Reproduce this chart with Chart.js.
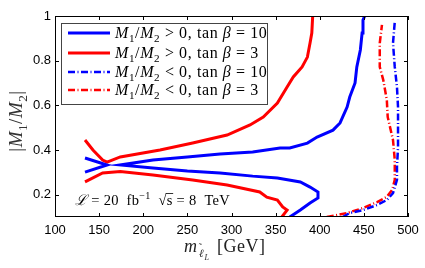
<!DOCTYPE html>
<html>
<head>
<meta charset="utf-8">
<script src="https://cdn.jsdelivr.net/npm/chart.js@4.4.1/dist/chart.umd.min.js"></script>
<style>
  html, body { margin: 0; padding: 0; background: #fff; }
</style>
</head>
<body>
<canvas id="graph" width="425" height="268"></canvas>
<script>
// axis ticks
var xTicks = [100, 150, 200, 250, 300, 350, 400, 450, 500];
var yTicks = [0.2, 0.4, 0.6, 0.8, 1];

// M1/M2 > 0, tan beta = 10 (blue solid), null = break in the line
var blueSolidX = [134, 159, 134, null, 366, 378, 389, 398, 398, 389, 378, 352, 324, 287, 250, 211, 174,
    211, 250, 287, 324, 355, 366, 386, 397, 415, 423, 431, 434, 440, 442, 446, 448, 449, 451];
var blueSolidY = [0.364, 0.333, 0.301, null, 0.1, 0.131, 0.163, 0.185, 0.212, 0.234, 0.257, 0.275, 0.283, 0.297, 0.306, 0.319, 0.333,
    0.355, 0.369, 0.382, 0.391, 0.409, 0.409, 0.431, 0.458, 0.489, 0.521, 0.592, 0.637, 0.7, 0.772, 0.848, 0.924, 0.982, 1.0];

// M1/M2 > 0, tan beta = 3 (red solid)
var redSolidX = [134, 154, 174, 211, 256, 295, 332, 340, 352, 358, 363, 357, null,
    134, 143, 154, 159, 174, 219, 256, 295, 321, 336, 352, 363, 370, 380, 386, 389, 391, 392];
var redSolidY = [0.257, 0.297, 0.304, 0.288, 0.266, 0.243, 0.212, 0.189, 0.176, 0.145, 0.131, 0.1, null,
    0.445, 0.40, 0.355, 0.346, 0.369, 0.40, 0.431, 0.467, 0.512, 0.548, 0.61, 0.682, 0.727, 0.772, 0.816, 0.879, 0.924, 1.0];

// M1/M2 < 0, tan beta = 10 (blue dash-dot)
var blueDashX = [426, 434, 449, 465, 476, 483, 487.5, 487.5, 488.7, 488.7, 487.5, 485, 483, 485];
var blueDashY = [0.1, 0.118, 0.131, 0.154, 0.176, 0.207, 0.266, 0.324, 0.413, 0.592, 0.682, 0.772, 0.879, 0.973];

// M1/M2 < 0, tan beta = 3 (red dash-dot)
var redDashX = [408, 431, 449, 465, 476, 482, 485, 485, 483, 477, 476, 472, 468, 468, 470.5];
var redDashY = [0.1, 0.118, 0.14, 0.167, 0.19, 0.221, 0.266, 0.355, 0.445, 0.548, 0.624, 0.713, 0.772, 0.879, 0.96];

var legendSign = ['>', '>', '<', '<'];
var legendTan = ['10', '3', '10', '3'];

var SERIF = '"Liberation Serif", "DejaVu Serif", serif';
var dashDot = [7, 2.5, 1, 2.5];

const toPoints = (xs, ys) => xs.map((x, i) => ({ x: x, y: ys[i] }));

const makeSet = (xs, ys, color, dashed) => ({
    data: toPoints(xs, ys),
    showLine: true,
    borderColor: color,
    borderWidth: dashed ? 2.5 : 3,
    borderDash: dashed ? dashDot : [],
    pointRadius: 0,
    fill: false,
    tension: 0
});

// draws text made of runs (italic / subscript / superscript), returns end x
const richText = (ctx, x, y, runs, size, measureOnly) => {
    runs.forEach((r) => {
        let s = (r.sub || r.sup) ? size * 0.7 : size;
        ctx.font = (r.it ? 'italic ' : '') + s + 'px ' + SERIF;
        let dy = r.sub ? size * 0.28 : (r.sup ? -size * 0.38 : 0);
        if (!measureOnly) ctx.fillText(r.t, x, y + dy);
        x += ctx.measureText(r.t).width;
    });
    return x;
};

const ratioRuns = [{ t: 'M', it: 1 }, { t: '1', sub: 1 }, { t: '/' }, { t: 'M', it: 1 }, { t: '2', sub: 1 }];

const decorPlugin = {
    id: 'decor',
    afterDatasetsDraw(chart) {
        const ctx = chart.ctx;
        const a = chart.chartArea;
        const xs = chart.scales.x, ys = chart.scales.y;
        ctx.save();

        // frame and inward ticks
        ctx.strokeStyle = '#000';
        ctx.lineWidth = 1;
        ctx.strokeRect(a.left + 0.5, a.top + 0.5, a.right - a.left - 1, a.bottom - a.top - 1);
        ctx.beginPath();
        xTicks.forEach((v) => {
            let px = Math.round(xs.getPixelForValue(v)) + 0.5;
            ctx.moveTo(px, a.bottom); ctx.lineTo(px, a.bottom - 4);
            ctx.moveTo(px, a.top); ctx.lineTo(px, a.top + 4);
        });
        yTicks.forEach((v) => {
            let py = Math.round(ys.getPixelForValue(v)) + 0.5;
            ctx.moveTo(a.left, py); ctx.lineTo(a.left + 4, py);
            ctx.moveTo(a.right, py); ctx.lineTo(a.right - 4, py);
        });
        ctx.stroke();

        // legend box
        ctx.fillStyle = '#fff';
        ctx.fillRect(61, 23, 206, 81);
        ctx.strokeStyle = '#444';
        ctx.strokeRect(61.5, 23.5, 206, 81);
        const rows = [33, 53, 72, 90];
        ctx.letterSpacing = '0.6px';
        chart.data.datasets.forEach((ds, i) => {
            ctx.beginPath();
            ctx.strokeStyle = ds.borderColor;
            ctx.lineWidth = ds.borderWidth;
            ctx.setLineDash(ds.borderDash);
            ctx.moveTo(68, rows[i]); ctx.lineTo(110, rows[i]);
            ctx.stroke();
            ctx.setLineDash([]);
            ctx.fillStyle = '#000';
            ctx.textBaseline = 'alphabetic';
            let runs = ratioRuns.concat([{ t: ' ' + legendSign[i] + ' 0, tan ' }, { t: 'β', it: 1 }, { t: ' = ' + legendTan[i] }]);
            richText(ctx, 115, rows[i] + 5, runs, 16);
        });

        // luminosity note
        ctx.fillStyle = '#000';
        ctx.letterSpacing = '0.3px';
        let nx = richText(ctx, 75, 205, [{ t: 'ℒ', it: 1 }, { t: ' = 20  fb' }, { t: '−1', sup: 1 }, { t: '  √' }], 14.5);
        let sx = nx;
        nx = richText(ctx, nx, 205, [{ t: 's' }], 14.5);
        ctx.beginPath();
        ctx.lineWidth = 0.8;
        ctx.strokeStyle = '#000';
        ctx.moveTo(sx - 1, 193.5); ctx.lineTo(nx + 0.5, 193.5);
        ctx.stroke();
        richText(ctx, nx, 205, [{ t: ' = 8  TeV' }], 14.5);

        // y title
        ctx.letterSpacing = '0.5px';
        ctx.save();
        ctx.translate(16, 121);
        ctx.rotate(-Math.PI / 2);
        let yRuns = [{ t: '|' }].concat(ratioRuns, [{ t: '|' }]);
        let w = richText(ctx, 0, 0, yRuns, 19, true);
        ctx.fillStyle = '#333';
        richText(ctx, -w / 2, 6, yRuns, 19);
        ctx.restore();

        // x title
        ctx.letterSpacing = '0px';
        ctx.fillStyle = '#222';
        let tx = richText(ctx, 184, 252, [{ t: 'm', it: 1 }], 18);
        ctx.font = 'italic 11px ' + SERIF;
        ctx.fillText('ℓ', tx + 2, 257);
        let lw = ctx.measureText('ℓ').width;
        ctx.font = '10px ' + SERIF;
        ctx.fillText('˜', tx + 2 + lw / 2 - 2.5, 251);
        ctx.font = 'italic 8px ' + SERIF;
        ctx.fillText('L', tx + 3 + lw, 260);
        ctx.letterSpacing = '0.5px';
        richText(ctx, 217, 252, [{ t: '[GeV]' }], 18);

        ctx.restore();
    }
};

var ctx = document.getElementById('graph').getContext('2d');
var myChart = new Chart(ctx, {
    type: 'scatter',
    data: {
        datasets: [
            makeSet(blueSolidX, blueSolidY, '#0000ff', false),
            makeSet(redSolidX, redSolidY, '#ff0000', false),
            makeSet(blueDashX, blueDashY, '#0000ff', true),
            makeSet(redDashX, redDashY, '#ff0000', true)
        ]
    },
    options: {
        responsive: false,
        animation: false,
        layout: {
            padding: { left: 0, right: 17, top: 16, bottom: 0 }
        },
        scales: {
            x: {
                type: 'linear',
                min: 100,
                max: 500,
                afterBuildTicks: (scale) => { scale.ticks = xTicks.map((v) => ({ value: v })); },
                afterFit: (scale) => { scale.height = 51; },
                ticks: {
                    color: '#000',
                    padding: 6,
                    maxRotation: 0,
                    font: { family: '"Liberation Sans", Arial, sans-serif', size: 13 }
                },
                grid: { display: false, drawTicks: false },
                border: { display: false }
            },
            y: {
                type: 'linear',
                min: 0.1,
                max: 1,
                afterBuildTicks: (scale) => { scale.ticks = yTicks.map((v) => ({ value: v })); },
                afterFit: (scale) => { scale.width = 55; },
                ticks: {
                    color: '#000',
                    padding: 4,
                    callback: (v) => String(Math.round(v * 10) / 10),
                    font: { family: '"Liberation Sans", Arial, sans-serif', size: 13 }
                },
                grid: { display: false, drawTicks: false },
                border: { display: false }
            }
        },
        plugins: {
            legend: { display: false },
            tooltip: { enabled: false }
        }
    },
    plugins: [decorPlugin]
});
</script>
</body>
</html>
